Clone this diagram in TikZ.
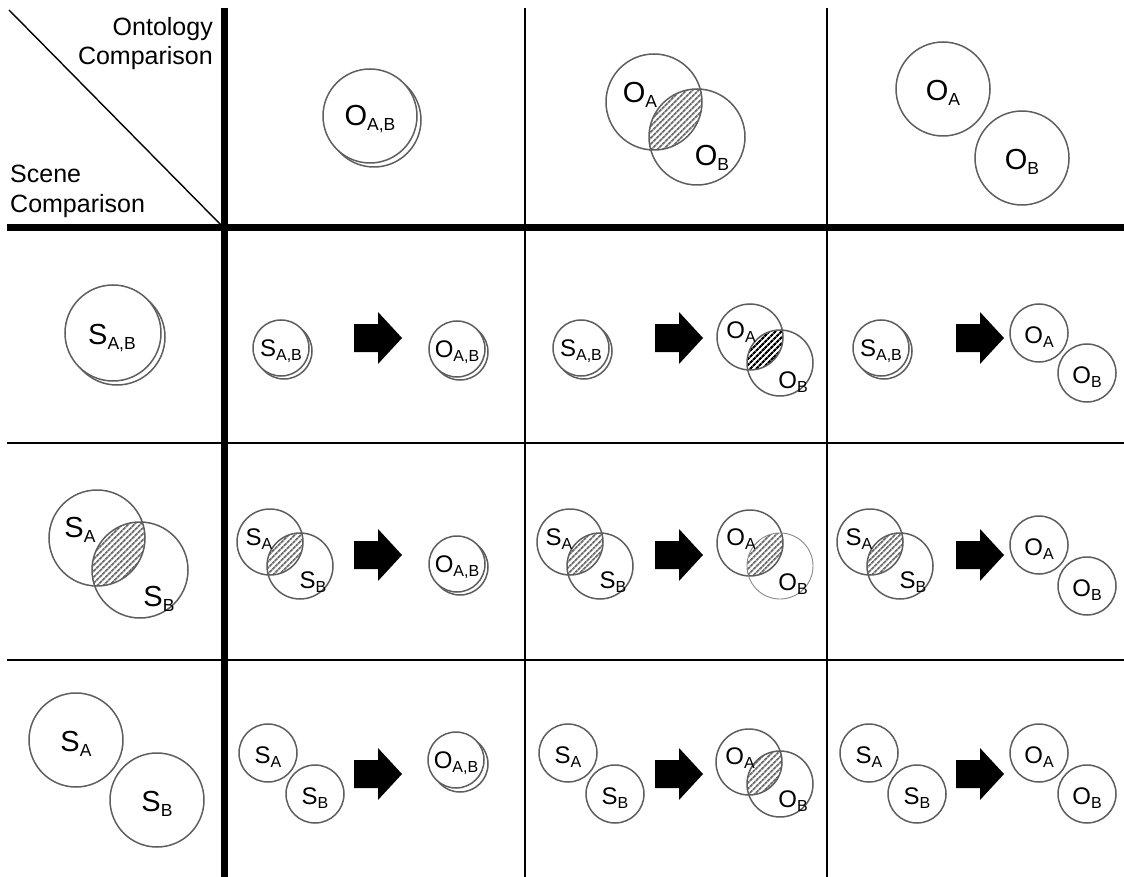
\documentclass[tikz,border=0pt]{standalone}
\usepackage{fontspec}
\setmainfont{Liberation Sans}
\usetikzlibrary{patterns.meta}

\definecolor{ringgray}{HTML}{5E5E5E}
\definecolor{hatchgray}{HTML}{6E6E6E}
\definecolor{thingray}{HTML}{8A8A8A}

% set labels: letter with a lowered, smaller subscript
\newcommand\BigLab[2]{#1\raisebox{-5pt}{\fontsize{17.5}{17.5}\selectfont #2}}
\newcommand\SmLab[2]{#1\raisebox{-4.5pt}{\fontsize{16}{16}\selectfont #2}}

% two identical sets: a shadow ring behind a white front ring
% #1 name, #2 x, #3 y, #4 radius, #5 offset
\newcommand\DrawDouble[5]{%
  \draw[ring] (#2+#5,#3+#5) circle[radius=#4];
  \draw[ring] (#2,#3) circle[radius=#4];
  \coordinate (#1) at (#2,#3);
}
% two overlapping sets with a hatched intersection
% #1 xa, #2 ya, #3 xb, #4 yb, #5 radius, #6 hatch style
\newcommand\DrawVenn[6]{%
  \begin{scope}
    \clip (#1,#2) circle[radius=#5];
    \fill[#6] (#3,#4) circle[radius=#5];
  \end{scope}
  \draw[ringline] (#1,#2) circle[radius=#5];
  \draw[ringline] (#3,#4) circle[radius=#5];
}
% two disjoint sets
\newcommand\DrawApart[5]{%
  \draw[ring] (#1,#2) circle[radius=#5];
  \draw[ring] (#3,#4) circle[radius=#5];
}

\tikzset{
  ring/.style={draw=ringgray, line width=1.5pt, fill=white},
  ringline/.style={draw=ringgray, line width=1.5pt},
  hatchlight/.style={pattern={Lines[angle=45,distance=4pt,line width=2pt]}, pattern color=hatchgray},
  hatchdark/.style={pattern={Lines[angle=45,distance=4pt,line width=2.3pt]}, pattern color=black},
  biglbl/.style={inner sep=0pt, font=\fontsize{29}{29}\selectfont},
  smlbl/.style={inner sep=0pt, font=\fontsize{24}{24}\selectfont},
  hdr/.style={inner sep=0pt, font=\fontsize{25}{25}\selectfont},
  thickrule/.style={line width=7pt},
  thinrule/.style={line width=1.4pt},
  barrow/.pic={\fill[black] (0,-14) -- (24,-14) -- (24,-26) -- (48,0) -- (24,26) -- (24,14) -- (0,14) -- cycle;}
}

\begin{document}
\begin{tikzpicture}[x=1pt,y=-1pt]
\useasboundingbox (0,0) rectangle (1124,877);

% ---------- grid ----------
\draw[thinrule] (9,10) -- (221,225);
\draw[thinrule] (525,8) -- (525,877);
\draw[thinrule] (827,8) -- (827,877);
\draw[thinrule] (7,443) -- (1124,443);
\draw[thinrule] (7,660) -- (1124,660);
\draw[thickrule] (224,8) -- (224,877);
\draw[thickrule] (7,228) -- (1124,228);

% ---------- corner headings ----------
\node[hdr, anchor=base east] (ont1) at (213,36) {Ontology};
\node[hdr, anchor=base east] (ont2) at (213,65) {Comparison};
\node[hdr, anchor=base west] (sc1) at (10,183) {Scene};
\node[hdr, anchor=base west] (sc2) at (10,213) {Comparison};

% ---------- column headings (ontology) ----------
\DrawDouble{hc1}{370}{116}{47}{4}
\node[biglbl] (hOAB) at (370,119) {\BigLab{O}{A,B}};

\DrawVenn{654}{102}{697}{137}{48}{hatchlight}
\node[biglbl] (hOA2) at (640,95) {\BigLab{O}{A}};
\node[biglbl] (hOB2) at (712,158) {\BigLab{O}{B}};

\DrawApart{943}{89}{1022}{158}{47}
\node[biglbl] (hOA3) at (943,93) {\BigLab{O}{A}};
\node[biglbl] (hOB3) at (1022,162) {\BigLab{O}{B}};

% ---------- row headings (scene) ----------
\DrawDouble{hr1}{113}{333}{48}{4}
\node[biglbl] (hSAB) at (112,338) {\BigLab{S}{A,B}};

\DrawVenn{97}{538}{140}{570}{48}{hatchlight}
\node[biglbl] (hSA2) at (80,530) {\BigLab{S}{A}};
\node[biglbl] (hSB2) at (159,599) {\BigLab{S}{B}};

\DrawApart{76}{740}{157}{800}{47}
\node[biglbl] (hSA3) at (76,744) {\BigLab{S}{A}};
\node[biglbl] (hSB3) at (157,804) {\BigLab{S}{B}};

% ---------- row 1: identical scenes ----------
\DrawDouble{c11s}{281}{348}{28}{3}
\node[smlbl] (r1c1s) at (281,351) {\SmLab{S}{A,B}};
\pic at (354,338) {barrow};
\DrawDouble{c11o}{457}{349}{28}{3}
\node[smlbl] (r1c1o) at (457,352) {\SmLab{O}{A,B}};

\DrawDouble{c12s}{581}{348}{28}{3}
\node[smlbl] (r1c2s) at (581,351) {\SmLab{S}{A,B}};
\pic at (655,338) {barrow};
\DrawVenn{750}{337}{780}{363}{33}{hatchdark}
\node[smlbl] (r1c2a) at (741,332) {\SmLab{O}{A}};
\node[smlbl] (r1c2b) at (793,382) {\SmLab{O}{B}};

\DrawDouble{c13s}{881}{348}{28}{3}
\node[smlbl] (r1c3s) at (881,351) {\SmLab{S}{A,B}};
\pic at (956,338) {barrow};
\DrawApart{1039}{333}{1087}{373}{29}
\node[smlbl] (r1c3a) at (1039,337) {\SmLab{O}{A}};
\node[smlbl] (r1c3b) at (1087,377) {\SmLab{O}{B}};

% ---------- row 2: overlapping scenes ----------
\DrawVenn{270}{542}{300}{566}{33}{hatchlight}
\node[smlbl] (r2c1a) at (259,539) {\SmLab{S}{A}};
\node[smlbl] (r2c1b) at (313,582) {\SmLab{S}{B}};
\pic at (354,555) {barrow};
\DrawDouble{c21o}{457}{564}{28}{3}
\node[smlbl] (r2c1o) at (457,567) {\SmLab{O}{A,B}};

\DrawVenn{570}{542}{600}{566}{33}{hatchlight}
\node[smlbl] (r2c2a) at (559,539) {\SmLab{S}{A}};
\node[smlbl] (r2c2b) at (613,582) {\SmLab{S}{B}};
\pic at (655,555) {barrow};
\begin{scope}
  \clip (750,543) circle[radius=33];
  \fill[hatchlight] (780,566) circle[radius=33];
\end{scope}
\draw[ringline] (750,543) circle[radius=33];
\draw[draw=thingray, line width=0.9pt] (780,566) circle[radius=33];
\node[smlbl] (r2c2oa) at (741,539) {\SmLab{O}{A}};
\node[smlbl] (r2c2ob) at (793,584) {\SmLab{O}{B}};

\DrawVenn{870}{542}{900}{566}{33}{hatchlight}
\node[smlbl] (r2c3a) at (859,539) {\SmLab{S}{A}};
\node[smlbl] (r2c3b) at (913,582) {\SmLab{S}{B}};
\pic at (956,555) {barrow};
\DrawApart{1039}{545}{1087}{586}{29}
\node[smlbl] (r2c3oa) at (1039,549) {\SmLab{O}{A}};
\node[smlbl] (r2c3ob) at (1087,590) {\SmLab{O}{B}};

% ---------- row 3: disjoint scenes ----------
\DrawApart{268}{753}{315}{794}{29}
\node[smlbl] (r3c1a) at (268,757) {\SmLab{S}{A}};
\node[smlbl] (r3c1b) at (315,798) {\SmLab{S}{B}};
\pic at (354,774) {barrow};
\DrawDouble{c31o}{456}{760}{28}{4}
\node[smlbl] (r3c1o) at (456,763) {\SmLab{O}{A,B}};

\DrawApart{568}{753}{615}{794}{29}
\node[smlbl] (r3c2a) at (568,757) {\SmLab{S}{A}};
\node[smlbl] (r3c2b) at (615,798) {\SmLab{S}{B}};
\pic at (655,774) {barrow};
\DrawVenn{749}{762}{780}{784}{33}{hatchlight}
\node[smlbl] (r3c2oa) at (740,758) {\SmLab{O}{A}};
\node[smlbl] (r3c2ob) at (793,801) {\SmLab{O}{B}};

\DrawApart{869}{753}{917}{794}{29}
\node[smlbl] (r3c3a) at (869,757) {\SmLab{S}{A}};
\node[smlbl] (r3c3b) at (917,798) {\SmLab{S}{B}};
\pic at (956,774) {barrow};
\DrawApart{1039}{753}{1087}{794}{29}
\node[smlbl] (r3c3oa) at (1039,757) {\SmLab{O}{A}};
\node[smlbl] (r3c3ob) at (1087,798) {\SmLab{O}{B}};

\end{tikzpicture}
\end{document}
